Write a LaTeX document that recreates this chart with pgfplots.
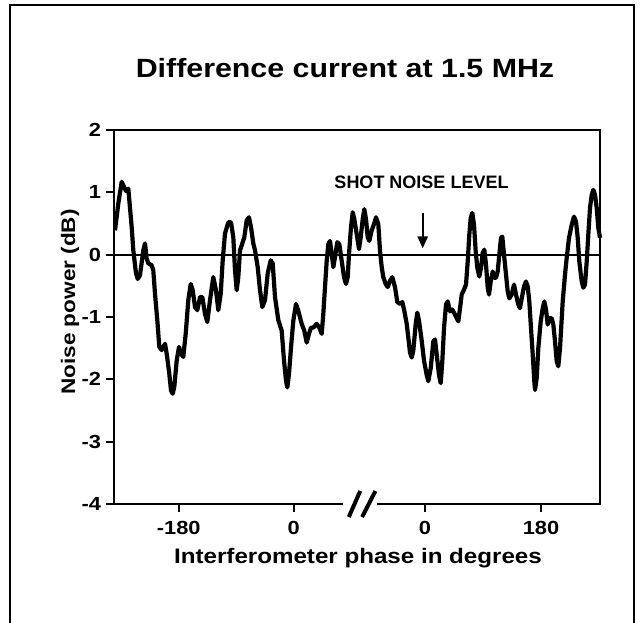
\documentclass[border=0pt]{standalone}
\usepackage{fontspec}
\setmainfont{Liberation Sans}
\newfontfamily\widefont[FakeStretch=1.15]{Liberation Sans}
\usepackage{pgfplots}
\pgfplotsset{compat=1.18}
\usetikzlibrary{arrows.meta}

% x = position along the (broken) phase axis, y = noise power in dB
\pgfplotstableread{
pos db
115 0.39
118.3 0.82
121.7 1.17
124 1.09
126 1.02
128.3 1.06
131.7 0.44
133.3 0.07
136 -0.30
137.7 -0.39
140 -0.33
143.3 0.07
145 0.18
146.7 -0.06
148.3 -0.14
151.7 -0.17
153.3 -0.25
155 -0.63
157.3 -1.05
159.3 -1.48
161.7 -1.53
165 -1.43
166.7 -1.59
169.3 -1.91
171 -2.18
172.7 -2.23
174.3 -2.12
176.7 -1.70
179 -1.48
181 -1.59
183.3 -1.64
185.7 -1.27
188.3 -0.73
190.7 -0.47
192.7 -0.57
195 -0.84
197.3 -0.89
200 -0.68
202.3 -0.68
205 -0.95
207.3 -1.08
210 -0.73
213.3 -0.36
216 -0.57
218.3 -0.89
220.7 -0.63
222.7 -0.09
225 0.34
228.3 0.52
231 0.52
233.3 0.28
235 -0.25
236.7 -0.57
238.3 -0.36
240 0.07
241.7 0.15
244.3 0.28
246.7 0.55
249 0.60
251 0.44
253.3 0.18
255 0.07
257.7 -0.20
260 -0.57
262.3 -0.84
265 -0.73
267.7 -0.30
270.7 -0.09
272.7 -0.14
275 -0.68
278.3 -1.05
281.7 -1.22
284 -1.70
286 -2.02
287.3 -2.13
289 -1.91
291 -1.49
293.3 -1.06
296 -0.79
298.3 -0.90
301.7 -1.11
304.3 -1.22
306.7 -1.41
309 -1.27
311 -1.17
313.3 -1.17
316.7 -1.11
319.3 -1.17
321.7 -1.27
323.3 -0.95
325 -0.52
326.7 -0.10
328.3 0.17
330 0.22
331.7 0.01
333.3 -0.20
335 -0.04
337.3 0.20
339.3 0.17
341.7 -0.10
344 -0.36
346 -0.47
347.7 -0.36
349 0.01
351 0.44
352.7 0.68
354.3 0.57
356.7 0.33
359 0.09
360.7 0.28
362.7 0.57
364.3 0.73
366 0.57
367.7 0.28
369.3 0.22
371.7 0.39
374 0.49
376 0.60
378.3 0.49
380 0.06
381.7 -0.20
383.3 -0.36
385.7 -0.47
387.7 -0.52
390 -0.42
392.3 -0.36
395 -0.52
397.3 -0.76
400 -0.79
402.3 -0.76
404.3 -0.90
406.7 -1.11
408.3 -1.33
410 -1.57
411.7 -1.65
413.3 -1.54
415.7 -1.11
417.3 -0.93
419 -1.06
421.7 -1.38
424 -1.70
426.7 -1.93
428.3 -2.03
430.7 -1.82
433.3 -1.39
435 -1.36
436.7 -1.60
439 -1.93
440.7 -2.06
442.3 -1.71
444 -1.18
446 -0.80
447.7 -0.75
450 -0.91
452.3 -0.88
454.3 -0.94
456.7 -1.02
458.3 -1.07
460 -0.86
461.7 -0.64
464 -0.56
466 -0.48
467.7 -0.11
469.3 0.32
470.7 0.59
472.3 0.67
474 0.48
475.7 0.05
477.3 -0.21
479.3 -0.35
481 -0.21
482.7 0.03
484.3 0.08
486 -0.16
487.7 -0.53
489 -0.64
490.7 -0.43
492.7 -0.27
494.3 -0.37
496 -0.37
497.7 -0.27
499.3 0.00
501 0.27
502.3 0.29
504 0.00
506 -0.32
507.7 -0.59
509.3 -0.70
511.7 -0.64
514 -0.48
516 -0.64
518.3 -0.80
520 -0.86
521.7 -0.70
524 -0.51
526 -0.43
527.7 -0.51
529.3 -0.75
531 -1.18
532.7 -1.60
534.3 -2.03
535 -2.17
536.7 -1.98
538.3 -1.50
540.7 -1.07
542.7 -0.86
544.3 -0.75
546 -0.88
547.7 -1.12
549.3 -1.02
551.7 -1.02
553.3 -1.12
555 -1.39
556.7 -1.71
558.3 -1.79
560 -1.50
562.7 -0.75
565 -0.32
566.7 -0.05
569 0.27
571.7 0.48
574 0.61
576 0.53
577.7 0.27
579.3 -0.11
581.7 -0.43
583.3 -0.53
585 -0.48
586.7 -0.11
588.3 0.32
590 0.75
591.7 0.96
593.3 1.04
595 0.96
596.7 0.75
598.3 0.43
600 0.27
}\noisedata

\begin{document}
\begin{tikzpicture}
\useasboundingbox (-57pt,-59pt) rectangle (263pt,252pt);
\begin{axis}[
  at={(0,0)}, anchor=south west,
  scale only axis, width=243pt, height=187pt,
  xmin=114, xmax=600, ymin=-4, ymax=2,
  xtick={178.7,293.6,425,541}, xticklabels={-180,0,0,180},
  ytick={-4,-3,-2,-1,0,1,2}, yticklabels={-4,-3,-2,-1,0,1,2},
  tick pos=left, tick align=outside,
  major tick length=4pt,
  tick style={black, line width=1pt},
  axis line style={line width=1.3pt},
  ticklabel style={font=\widefont\fontsize{9.5}{11}\selectfont\bfseries},
  xticklabel style={yshift=-1pt},
  yticklabel style={xshift=1pt},
  clip=false,
]
\addplot[black, line width=1pt] coordinates {(114,0) (600,0)};
\addplot[black, line width=2.1pt, line join=round] table {\noisedata};
\node[font=\fontsize{9}{11}\selectfont\bfseries] at (axis cs:421.5,1.16) {SHOT NOISE LEVEL};
\draw[line width=1.2pt, -{Triangle[length=6pt,width=5pt]}] (axis cs:422.7,0.67) -- (axis cs:422.7,0.10);
\end{axis}
\begin{scope}[shift={(-57pt,252pt)}, x=0.5pt, y=-0.5pt]
\draw[line width=1.3pt] (10,640) -- (10,5) -- (634,5) -- (634,640);
\fill[white] (343,500) rectangle (377,508);
\draw[line width=2pt] (348.8,517) -- (360.2,491) (362.1,517) -- (375.4,491);
\node[font=\widefont\fontsize{13.2}{16}\selectfont\bfseries] at (345,68) {Difference current at 1.5 MHz};
\node[font=\widefont\fontsize{10.5}{13}\selectfont\bfseries] at (358,558) {Interferometer phase in degrees};
\node[rotate=90, font=\widefont\fontsize{9.8}{12}\selectfont\bfseries] at (70,302) {Noise power (dB)};
\end{scope}
\end{tikzpicture}
\end{document}
